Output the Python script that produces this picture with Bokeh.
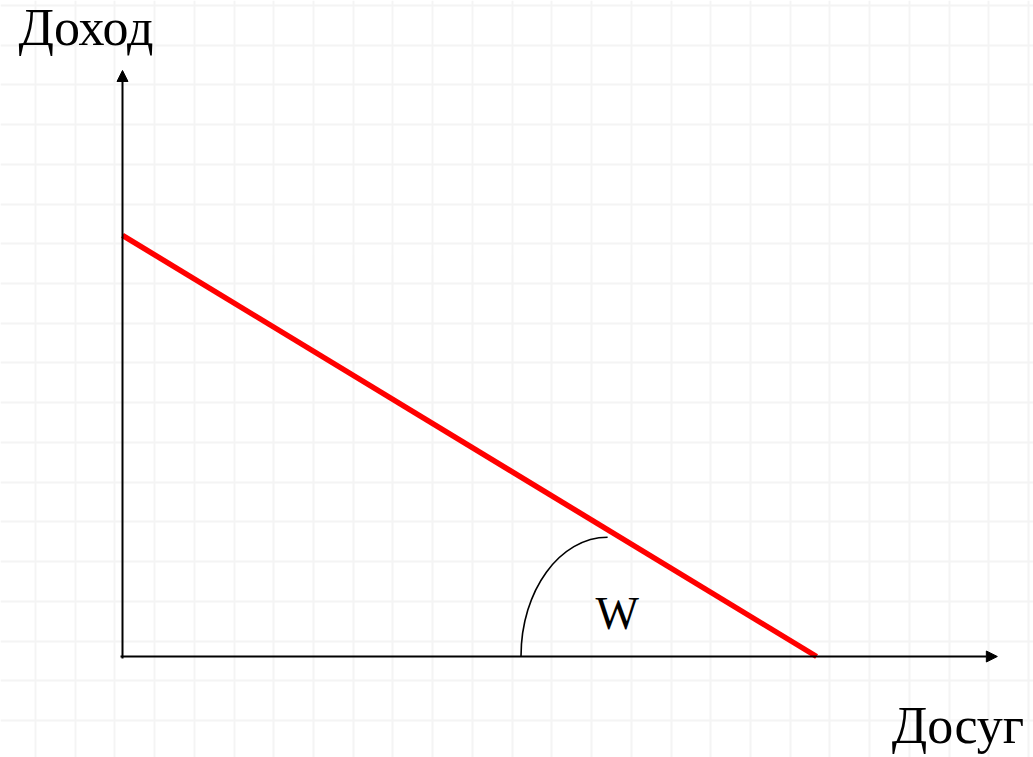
from bokeh.plotting import figure
from bokeh.models import Range1d, Arrow, NormalHead, FixedTicker, Grid
from bokeh.core.properties import value
from bokeh.embed import file_html
from bokeh.resources import INLINE

# ---- data (units: one grid cell) ----
income_max = 10.60        # intercept of the budget line on the income axis
leisure_max = 17.47       # intercept of the budget line on the leisure axis
y_axis_top = 14.75
x_axis_right = 22.02
angle_center = [12.21]    # corner of the angle arc
angle_rx = [2.18]
angle_ry = [3.0]
labels = ["Доход", "Досуг", "W"]
label_x = [-2.62, 19.36, 12.45]
label_y = [15.83, -1.74, 1.09]
label_size = ["52px", "52px", "46px"]
grid_x = [-2.193 + k for k in range(27)]
grid_y = [-1.611 + k for k in range(20)]

FONT = "Liberation Serif"
S = 39.73  # pixels per unit
W, H = 1033, 757
OX, OY = 122, 656  # origin position in the picture

p = figure(width=W, height=H, output_backend="svg", toolbar_location=None,
           x_range=Range1d(-OX / S, (W - OX) / S), y_range=Range1d(-(H - OY) / S, OY / S),
           min_border=0, x_axis_type=None, y_axis_type=None)
p.outline_line_color = None
p.background_fill_color = "white"
p.border_fill_color = "white"
p.xgrid.visible = False
p.ygrid.visible = False

# graph-paper background
gx = Grid(dimension=0, ticker=FixedTicker(ticks=grid_x), grid_line_color="#f4f4f4", grid_line_width=2)
gy = Grid(dimension=1, ticker=FixedTicker(ticks=grid_y), grid_line_color="#f4f4f4", grid_line_width=2)
p.add_layout(gx)
p.add_layout(gy)

# axes with arrows
p.add_layout(Arrow(end=NormalHead(size=11, fill_color="black", line_color="black"),
                   x_start=-0.05, y_start=0, x_end=x_axis_right, y_end=0,
                   line_color="black", line_width=2))
p.add_layout(Arrow(end=NormalHead(size=11, fill_color="black", line_color="black"),
                   x_start=0, y_start=-0.05, x_end=0, y_end=y_axis_top,
                   line_color="black", line_width=2))

# budget line
p.line([0, leisure_max], [income_max, 0], line_color="#ff0000", line_width=5.5)

# angle arc (quarter ellipse)
k = 0.5523
cx = angle_center[0]; a = angle_rx[0]; b = angle_ry[0]
p.bezier(x0=[cx - a], y0=[0], x1=[cx], y1=[b],
         cx0=[cx - a], cy0=[k * b], cx1=[cx - k * a], cy1=[b],
         line_color="black", line_width=1.6)

# labels
for t, x, y, s in zip(labels, label_x, label_y, label_size):
    p.text(x=[x], y=[y], text=[t], text_font=value(FONT), text_font_size=s,
           text_color="black", text_baseline="alphabetic",
           text_align="center" if t == "W" else "left")

open("out.html", "w").write(file_html(p, INLINE))
